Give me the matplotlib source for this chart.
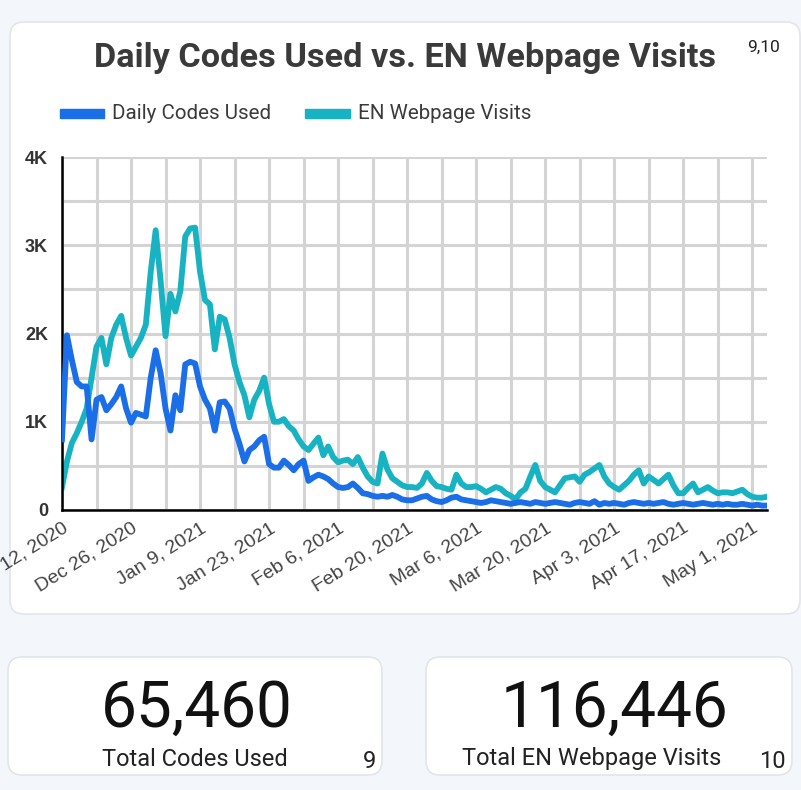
import pandas as pd
import matplotlib
matplotlib.use('Agg')
import matplotlib.pyplot as plt
from matplotlib.patches import FancyBboxPatch, Rectangle

# datos (un valor por dia, desde el 12 de diciembre de 2020)
fecha_inicio = '2020-12-12'
visitas_web = [260, 550, 760, 870, 1000, 1150, 1500, 1850, 1950, 1650,
               1950, 2100, 2200, 1950, 1750, 1850, 1950, 2100, 2700, 3170,
               2600, 1970, 2450, 2250, 2480, 3100, 3190, 3200, 2700, 2380,
               2330, 1820, 2190, 2160, 1950, 1650, 1450, 1300, 1050, 1250,
               1350, 1500, 1200, 1000, 1000, 1030, 950, 900, 800, 720,
               680, 750, 820, 620, 720, 600, 540, 560, 570, 520,
               600, 480, 380, 320, 300, 640, 460, 360, 320, 280,
               260, 260, 250, 300, 420, 330, 270, 260, 240, 230,
               400, 300, 260, 260, 270, 240, 200, 230, 260, 240,
               190, 160, 120, 200, 240, 380, 510, 330, 260, 230,
               200, 280, 360, 370, 380, 320, 400, 430, 470, 510,
               380, 300, 260, 230, 280, 330, 400, 450, 300, 380,
               340, 300, 350, 400, 280, 190, 190, 250, 300, 200,
               230, 260, 220, 190, 200, 200, 190, 210, 230, 180,
               150, 140, 140, 150]
codigos_diarios = [800, 1980, 1700, 1450, 1400, 1400, 800, 1250, 1280, 1130,
                   1200, 1280, 1400, 1150, 990, 1100, 1080, 1060, 1500, 1810,
                   1550, 1150, 900, 1300, 1130, 1650, 1680, 1660, 1400, 1250,
                   1150, 900, 1220, 1230, 1150, 920, 750, 550, 680, 720,
                   790, 830, 520, 480, 480, 560, 510, 450, 520, 560,
                   330, 370, 400, 380, 350, 300, 260, 250, 260, 300,
                   250, 190, 180, 160, 150, 160, 150, 170, 150, 120,
                   110, 110, 130, 150, 160, 120, 100, 90, 110, 140,
                   150, 120, 110, 100, 90, 80, 90, 110, 100, 90,
                   80, 70, 80, 90, 80, 70, 90, 80, 70, 80,
                   90, 80, 70, 60, 80, 90, 80, 70, 100, 60,
                   80, 70, 80, 70, 60, 80, 90, 80, 70, 80,
                   70, 80, 90, 70, 60, 70, 80, 70, 60, 70,
                   80, 70, 60, 70, 60, 70, 60, 60, 70, 60,
                   50, 60, 50, 50]
etiquetas_y = ['0', '1K', '2K', '3K', '4K']
total_codigos = '65,460'
total_visitas = '116,446'

fechas = pd.date_range(fecha_inicio, periods=len(visitas_web))

azul = '#1a6ee8'
turquesa = '#17b3c3'
gris_texto = '#3a3a3a'

plt.rcParams['font.family'] = ['Roboto', 'DejaVu Sans']

fig = plt.figure(figsize=(8.01, 7.90), dpi=100)
fig.patch.set_facecolor('#f3f6fa')

# capa de fondo en pixeles para las tarjetas
fondo = fig.add_axes([0, 0, 1, 1])
fondo.set_xlim(0, 801)
fondo.set_ylim(790, 0)
fondo.axis('off')

def tarjeta(x, y, w, h):
    fondo.add_patch(FancyBboxPatch((x, y), w, h, boxstyle='round,pad=0,rounding_size=14',
                                   facecolor='white', edgecolor='#e2e5ea', linewidth=1.2))

tarjeta(10, 22, 790, 592)
tarjeta(8, 657, 374, 118)
tarjeta(426, 657, 366, 118)

fondo.text(405, 58, 'Daily Codes Used vs. EN Webpage Visits', ha='center', va='center',
           fontsize=24.7, fontweight='bold', color=gris_texto)
fondo.text(764, 47, '9,10', ha='center', va='center', fontsize=12.5, color='#222222')

# leyenda
fondo.add_patch(Rectangle((60, 109), 44, 9, color=azul))
fondo.text(112, 113.5, 'Daily Codes Used', ha='left', va='center', fontsize=14.8, color=gris_texto)
fondo.add_patch(Rectangle((305, 109), 45, 9, color=turquesa))
fondo.text(358, 113.5, 'EN Webpage Visits', ha='left', va='center', fontsize=14.8, color=gris_texto)

# tarjetas de totales
fondo.text(197, 709, total_codigos, ha='center', va='center', fontsize=46, color='#111111')
fondo.text(195, 760, 'Total Codes Used', ha='center', va='center', fontsize=17, color='#222222')
fondo.text(370, 761, '9', ha='center', va='center', fontsize=17, color='#222222')
fondo.text(614, 709, total_visitas, ha='center', va='center', fontsize=46, color='#111111')
fondo.text(592, 759, 'Total EN Webpage Visits', ha='center', va='center', fontsize=17,
           color='#222222')
fondo.text(772, 761, '10', ha='center', va='center', fontsize=17, color='#222222')

# grafico principal
ax = fig.add_axes([62 / 801, (790 - 510) / 790, 705 / 801, 353 / 790])
ax.set_facecolor('none')
ax.plot(fechas, codigos_diarios, color=azul, linewidth=4.2, solid_joinstyle='round', zorder=3)
ax.plot(fechas, visitas_web, color=turquesa, linewidth=4.2, solid_joinstyle='round', zorder=2)

ax.set_xlim(fechas[0], fechas[-1])
ax.set_ylim(0, 4000)

ticks_x = fechas[::14]
ax.set_xticks(ticks_x)
ax.set_xticks(fechas[7::14], minor=True)
ax.set_xticklabels([f'{d:%b} {d.day}, {d.year}' for d in ticks_x], rotation=32,
                   ha='right', rotation_mode='anchor', fontsize=14, color='#444444',
                   family=['Liberation Sans', 'DejaVu Sans'])
ax.set_yticks([0, 1000, 2000, 3000, 4000])
ax.set_yticks([500, 1500, 2500, 3500], minor=True)
ax.set_yticklabels(etiquetas_y, fontsize=13, fontweight='bold', color='#333333',
                   family=['Liberation Sans', 'DejaVu Sans'])

ax.tick_params(which='both', length=0)
ax.tick_params(axis='x', pad=7)
ax.tick_params(axis='y', pad=10)
ax.grid(which='both', color='#d4d4d4', linewidth=2.2)
ax.set_axisbelow(True)
for lado in ['top', 'right']:
    ax.spines[lado].set_visible(False)
ax.spines['left'].set_linewidth(1.8)
ax.spines['bottom'].set_linewidth(1.8)

plt.savefig('out.png', dpi=100, facecolor=fig.get_facecolor())
